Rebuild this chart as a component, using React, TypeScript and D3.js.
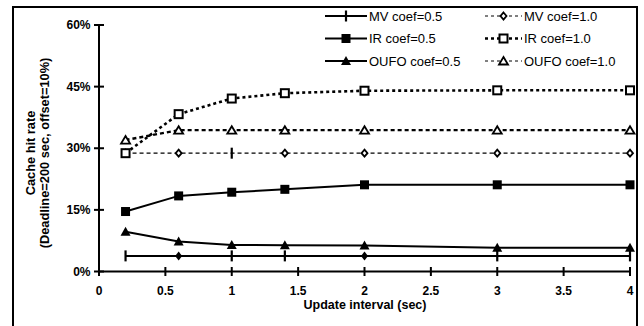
import React from "react";
import * as d3 from "d3";

const intervals = [0.2, 0.6, 1, 1.4, 2, 3, 4];
const mvLow = [0.038, 0.038, 0.038, 0.038, 0.038, 0.038, 0.038];
const mvHigh = [0.288, 0.288, 0.288, 0.288, 0.288, 0.288, 0.288];
const irLow = [0.146, 0.184, 0.193, 0.2, 0.211, 0.211, 0.211];
const irHigh = [0.288, 0.383, 0.421, 0.434, 0.44, 0.441, 0.441];
const oufoLow = [0.097, 0.073, 0.0645, 0.064, 0.063, 0.058, 0.058];
const oufoHigh = [0.32, 0.344, 0.344, 0.344, 0.344, 0.344, 0.344];
const xTicks = [0, 0.5, 1, 1.5, 2, 2.5, 3, 3.5, 4];
const yTicks = [0, 0.15, 0.3, 0.45, 0.6];
const legendLabels = ["MV coef=0.5", "IR coef=0.5", "OUFO coef=0.5", "MV coef=1.0", "IR coef=1.0", "OUFO coef=1.0"];
// marker shown at each point (as it appears in the source picture)
const mvLowMarks = ["bar", "diamondFill", "bar", "bar", "diamondFill", "bar", "bar"];
const mvHighMarks = ["diamond", "diamond", "bar", "diamond", "diamond", "diamond", "diamond"];

const FONT = "'Liberation Sans', Arial, sans-serif";

function Marker({ type, x, y }: { type: string; x: number; y: number }) {
  switch (type) {
    case "bar":
      return <line x1={x} x2={x} y1={y - 5.5} y2={y + 5.5} stroke="#000" strokeWidth={2.2} />;
    case "diamondFill":
      return <path d={`M${x},${y - 4.5}L${x + 3.5},${y}L${x},${y + 4.5}L${x - 3.5},${y}Z`} fill="#000" />;
    case "diamond":
      return <path d={`M${x},${y - 3.5}L${x + 3},${y}L${x},${y + 3.5}L${x - 3},${y}Z`} fill="#fff" stroke="#000" strokeWidth={1.8} />;
    case "squareFill":
      return <rect x={x - 4.5} y={y - 4.5} width={9} height={9} fill="#000" />;
    case "square":
      return <rect x={x - 4} y={y - 4} width={8} height={8} fill="#fff" stroke="#000" strokeWidth={2} />;
    case "triFill":
      return <path d={`M${x},${y - 5}L${x + 5},${y + 4}L${x - 5},${y + 4}Z`} fill="#000" />;
    case "tri":
      return <path d={`M${x},${y - 4}L${x + 4.5},${y + 3.5}L${x - 4.5},${y + 3.5}Z`} fill="#fff" stroke="#000" strokeWidth={1.8} strokeLinejoin="miter" />;
    default:
      return null;
  }
}

export default function App() {
  const x = d3.scaleLinear().domain([0, 4]).range([99, 630]);
  const y = d3.scaleLinear().domain([0, 0.6]).range([271.5, 25]);
  const line = d3.line<number>().x((_, i) => x(intervals[i])).y((d) => y(d));

  const series = [
    { values: mvHigh, dash: "4,3", width: 1.2, marks: mvHighMarks },
    { values: oufoHigh, dash: "4,3", width: 2.4, marks: intervals.map(() => "tri") },
    { values: irHigh, dash: "3,3", width: 2.6, marks: intervals.map(() => "square") },
    { values: mvLow, dash: null, width: 2, marks: mvLowMarks },
    { values: oufoLow, dash: null, width: 2, marks: intervals.map(() => "triFill") },
    { values: irLow, dash: null, width: 2, marks: intervals.map(() => "squareFill") },
  ];

  const legend = [
    { label: legendLabels[0], mark: "bar", dash: null, width: 2, col: 0, row: 0 },
    { label: legendLabels[1], mark: "squareFill", dash: null, width: 2, col: 0, row: 1 },
    { label: legendLabels[2], mark: "triFill", dash: null, width: 2, col: 0, row: 2 },
    { label: legendLabels[3], mark: "diamond", dash: "3,3", width: 1, col: 1, row: 0 },
    { label: legendLabels[4], mark: "square", dash: "3,3", width: 2.6, col: 1, row: 1 },
    { label: legendLabels[5], mark: "tri", dash: "3,3", width: 1, col: 1, row: 2 },
  ];
  const rowY = [16, 38.5, 61];
  const colX = [325, 485];
  const colLen = [42, 37];

  return (
    <svg width={644} height={326} style={{ position: "absolute", left: 0, top: 0, background: "#fff" }} fontFamily={FONT}>
      <rect x={0} y={0} width={644} height={326} fill="#fff" />
      {/* outer frame */}
      <path d="M13,330V7H637V330" fill="none" stroke="#000" strokeWidth={2} />

      {/* axes */}
      <line x1={x(0)} x2={x(0)} y1={y(0.6)} y2={y(0)} stroke="#000" strokeWidth={2} />
      <line x1={x(0)} x2={x(4)} y1={y(0)} y2={y(0)} stroke="#000" strokeWidth={2} />
      {yTicks.map((t) => (
        <g key={"y" + t}>
          <line x1={x(0) - 5} x2={x(0) + 5} y1={y(t)} y2={y(t)} stroke="#000" strokeWidth={2} />
          <text x={x(0) - 8.5} y={y(t) + 4.2} textAnchor="end" fontSize={12} fontWeight="bold">
            {d3.format(".0%")(t)}
          </text>
        </g>
      ))}
      {xTicks.map((t) => (
        <g key={"x" + t}>
          <line x1={x(t)} x2={x(t)} y1={y(0) - 4.5} y2={y(0) + 4.5} stroke="#000" strokeWidth={2} />
          <text x={x(t)} y={y(0) + 23.5} textAnchor="middle" fontSize={12} fontWeight="bold">
            {d3.format("")(t)}
          </text>
        </g>
      ))}

      {/* axis titles */}
      <text x={365} y={309} textAnchor="middle" fontSize={12.5} fontWeight="bold">
        Update interval (sec)
      </text>
      <g transform="translate(34.5,153) rotate(-90)">
        <text x={0} y={0} textAnchor="middle" fontSize={12.8} fontWeight="bold">Cache hit rate</text>
        <text x={0} y={14} textAnchor="middle" fontSize={12.8} fontWeight="bold">(Deadline=200 sec, offset=10%)</text>
      </g>

      {/* series */}
      {series.map((s, i) => (
        <g key={"s" + i}>
          <path d={line(s.values) || ""} fill="none" stroke="#000" strokeWidth={s.width} strokeDasharray={s.dash || undefined} />
          {s.values.map((v, j) => (
            <Marker key={j} type={s.marks[j]} x={x(intervals[j])} y={y(v)} />
          ))}
        </g>
      ))}

      {/* legend */}
      {legend.map((l, i) => {
        const x0 = colX[l.col];
        const len = colLen[l.col];
        const yy = rowY[l.row];
        return (
          <g key={"l" + i}>
            <line x1={x0} x2={x0 + len} y1={yy} y2={yy} stroke="#000" strokeWidth={l.width} strokeDasharray={l.dash || undefined} />
            <Marker type={l.mark} x={x0 + len / 2} y={yy} />
            <text x={x0 + len + 2} y={yy + 4.5} fontSize={13}>{l.label}</text>
          </g>
        );
      })}
    </svg>
  );
}
